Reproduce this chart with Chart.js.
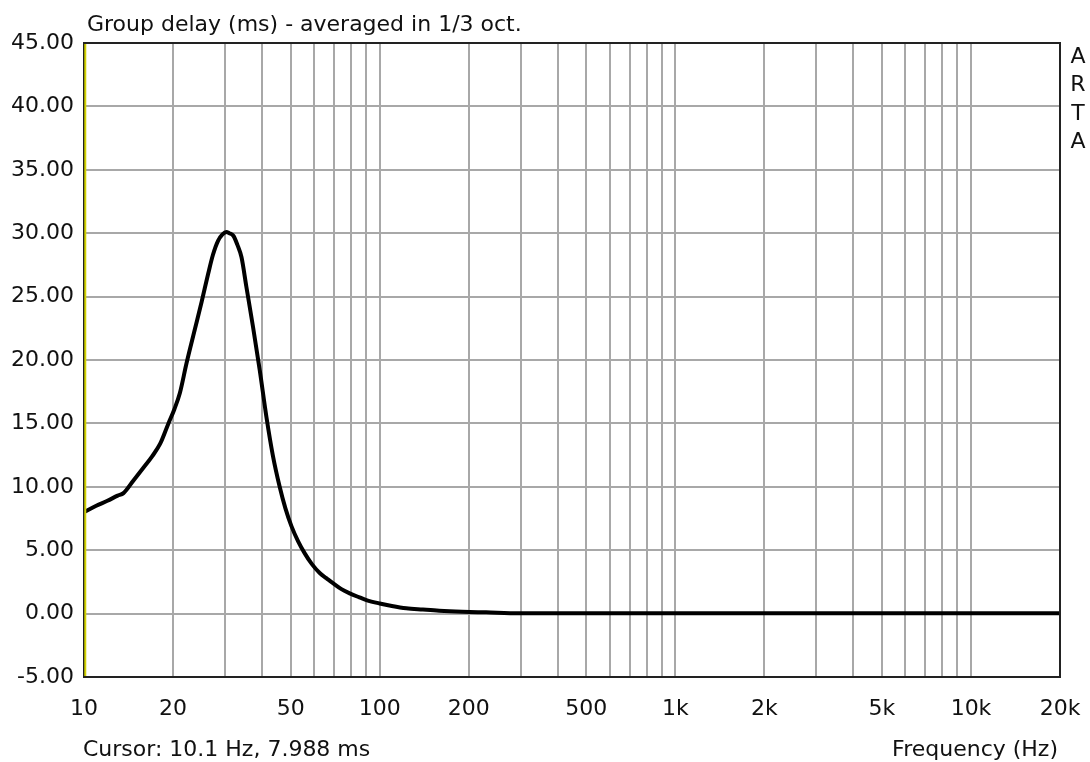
<!DOCTYPE html>
<html>
<head>
<meta charset="utf-8">
<title>Group delay</title>
<script src="https://cdn.jsdelivr.net/npm/chart.js@4"></script>
<style>
    html, body { margin: 0; padding: 0; background: #fff; }
    #wrap { width: 1090px; height: 762px; }
</style>
</head>
<body>
<div id="wrap"><canvas id="gdChart" width="1090" height="762"></canvas></div>
<script>
// Group delay (ms), 1/3 octave averaged
const freqHz = [10, 11, 12, 13, 13.6, 14.7, 16, 17, 18.1, 19.3, 20.2, 21.1, 22.2, 23.7, 25,
    26.3, 27.3, 28.4, 29.4, 30.3, 31, 32, 33, 34.1, 35.4, 37.3, 39.3, 41.4, 43.5,
    45.9, 48, 50.3, 53, 55.8, 59, 62.7, 66, 69.5, 74, 79.2, 85, 90.2, 100, 110,
    123, 140, 159, 190, 229, 297, 400, 700, 1000, 2000, 5000, 10000, 20000];
const delayMs = [8.0, 8.5, 8.9, 9.3, 9.5, 10.5, 11.6, 12.4, 13.4, 15.0, 16.1, 17.4, 19.7, 22.4, 24.6,
    26.8, 28.3, 29.4, 29.9, 30.1, 30.0, 29.8, 29.1, 28.1, 25.8, 22.6, 19.2, 15.5, 12.5,
    10.0, 8.3, 6.9, 5.7, 4.75, 3.9, 3.2, 2.8, 2.4, 1.95, 1.6, 1.3, 1.07, 0.8, 0.6,
    0.42, 0.32, 0.23, 0.15, 0.1, 0.03, 0.02, 0.02, 0.02, 0.02, 0.02, 0.02, 0.02];

const gridFreqs = [10, 20, 30, 40, 50, 60, 70, 80, 90,
    100, 200, 300, 400, 500, 600, 700, 800, 900,
    1000, 2000, 3000, 4000, 5000, 6000, 7000, 8000, 9000,
    10000, 20000];
const labelFreqs = [10, 20, 50, 100, 200, 500, 1000, 2000, 5000, 10000, 20000];
const labelTexts = ['10', '20', '50', '100', '200', '500', '1k', '2k', '5k', '10k', '20k'];
const yTicks = [-5, 0, 5, 10, 15, 20, 25, 30, 35, 40, 45];

const titleText = 'Group delay (ms) - averaged in 1/3 oct.';
const cursorFreq = 10.1;
const cursorText = 'Cursor: 10.1 Hz, 7.988 ms';
const xAxisText = 'Frequency (Hz)';
const brandText = 'ARTA';

const FONT = '"DejaVu Sans", sans-serif';
const FONT_SIZE = 22;

// frame, cursor line and the loose texts round the plot
const decorPlugin = {
    id: 'artaDecor',
    afterDraw(chart) {
        const { ctx, chartArea: a, scales } = chart;
        ctx.save();

        // plot frame
        ctx.strokeStyle = '#222';
        ctx.lineWidth = 2;
        ctx.strokeRect(a.left, a.top, a.right - a.left, a.bottom - a.top);

        // yellow cursor line, drawn over the left edge of the frame
        const cx = scales.x.getPixelForValue(cursorFreq);
        ctx.strokeStyle = '#d2d200';
        ctx.lineWidth = 2;
        ctx.beginPath();
        ctx.moveTo(cx, a.top + 1);
        ctx.lineTo(cx, a.bottom - 1);
        ctx.stroke();

        ctx.fillStyle = '#111';
        ctx.font = FONT_SIZE + 'px ' + FONT;
        ctx.textBaseline = 'alphabetic';
        ctx.textAlign = 'left';
        ctx.fillText(titleText, 87, 31);
        ctx.fillText(cursorText, 83, 756);
        ctx.textAlign = 'right';
        ctx.fillText(xAxisText, 1058, 756);

        ctx.textAlign = 'center';
        ctx.textBaseline = 'middle';
        brandText.split('').forEach((ch, i) => {
            ctx.fillText(ch, 1078, 57 + i * 28.5);
        });
        ctx.restore();
    }
};

function init() {
    const points = freqHz.map((f, i) => ({ x: f, y: delayMs[i] }));
    const ctx = document.getElementById('gdChart');

    new Chart(ctx, {
        type: 'line',
        data: {
            datasets: [{
                label: 'Group delay',
                data: points,
                borderColor: '#000',
                borderWidth: 4,
                pointRadius: 0,
                fill: false,
                cubicInterpolationMode: 'monotone'
            }]
        },
        options: {
            responsive: false,
            animation: false,
            layout: { padding: { top: 43, right: 30, left: 0, bottom: 0 } },
            plugins: {
                legend: { display: false },
                title: { display: false },
                tooltip: { enabled: false }
            },
            scales: {
                x: {
                    type: 'logarithmic',
                    min: 10,
                    max: 20000,
                    afterBuildTicks: scale => {
                        scale.ticks = gridFreqs.map(v => ({ value: v }));
                    },
                    afterFit: scale => {
                        scale.height = 85;
                        scale.paddingLeft = 0;
                        scale.paddingRight = 0;
                    },
                    grid: { color: '#a8a8a8', lineWidth: 2, drawTicks: false },
                    border: { display: false },
                    ticks: {
                        autoSkip: false,
                        maxRotation: 0,
                        padding: 19,
                        color: '#111',
                        font: { family: FONT, size: FONT_SIZE },
                        callback: value => {
                            const k = labelFreqs.indexOf(value);
                            return k >= 0 ? labelTexts[k] : '';
                        }
                    }
                },
                y: {
                    min: -5,
                    max: 45,
                    afterBuildTicks: scale => {
                        scale.ticks = yTicks.map(v => ({ value: v }));
                    },
                    afterFit: scale => {
                        scale.width = 84;
                        scale.paddingTop = 0;
                        scale.paddingBottom = 0;
                    },
                    grid: { color: '#a8a8a8', lineWidth: 2, drawTicks: false },
                    border: { display: false },
                    ticks: {
                        padding: 10,
                        color: '#111',
                        font: { family: FONT, size: FONT_SIZE },
                        callback: value => Number(value).toFixed(2)
                    }
                }
            }
        },
        plugins: [decorPlugin]
    });
}

document.addEventListener('DOMContentLoaded', init);
</script>
</body>
</html>
